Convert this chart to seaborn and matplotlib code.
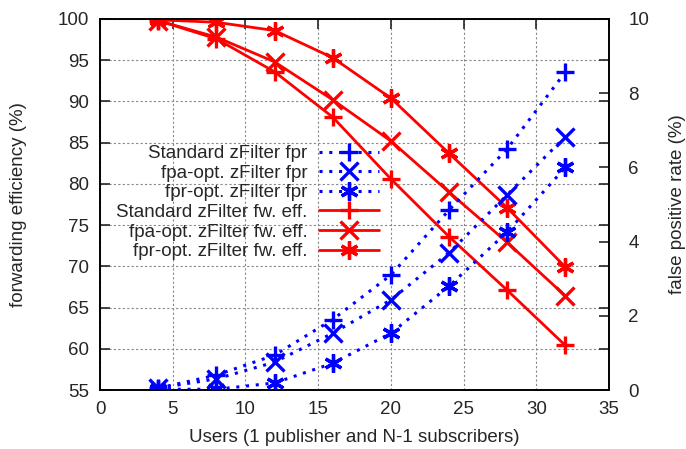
import numpy as np
import pandas as pd
import matplotlib
matplotlib.use("Agg")
import matplotlib.pyplot as plt
import seaborn as sns

# number of users (1 publisher + N-1 subscribers)
users = [4, 8, 12, 16, 20, 24, 28, 32]

# false positive rate (%), right axis
fpr_standard = [0.05, 0.40, 0.94, 1.90, 3.10, 4.85, 6.50, 8.57]
fpr_fpa_opt = [0.05, 0.30, 0.75, 1.53, 2.43, 3.70, 5.26, 6.83]
fpr_fpr_opt = [0.02, 0.02, 0.19, 0.72, 1.53, 2.80, 4.26, 6.00]

# forwarding efficiency (%), left axis
eff_standard = [99.8, 97.6, 93.6, 88.1, 80.6, 73.6, 67.1, 60.4]
eff_fpa_opt = [99.8, 97.8, 94.8, 90.2, 85.2, 79.0, 72.9, 66.4]
eff_fpr_opt = [99.9, 99.6, 98.6, 95.3, 90.4, 83.7, 77.1, 69.9]

fpr_labels = ["Standard zFilter fpr", "fpa-opt. zFilter fpr", "fpr-opt. zFilter fpr"]
eff_labels = ["Standard zFilter fw. eff.", "fpa-opt. zFilter fw. eff.", "fpr-opt. zFilter fw. eff."]
markers = ["+", "x", (6, 2, 0)]

sns.set_style("white")
plt.rcParams["font.family"] = ["Liberation Sans", "DejaVu Sans"]
plt.rcParams["font.size"] = 13.5

fig = plt.figure(figsize=(6.86, 4.49), dpi=100)
ax = fig.add_axes([0.1458, 0.1314, 0.742, 0.8263])
ax2 = ax.twinx()

fpr_df = pd.DataFrame({"users": users * 3,
                       "value": fpr_standard + fpr_fpa_opt + fpr_fpr_opt,
                       "series": [l for l in fpr_labels for _ in users]})
eff_df = pd.DataFrame({"users": users * 3,
                       "value": eff_standard + eff_fpa_opt + eff_fpr_opt,
                       "series": [l for l in eff_labels for _ in users]})

blue, red = "#0000ff", "#ff0000"
handles = []
for lab, m in zip(fpr_labels, markers):
    sub = fpr_df[fpr_df.series == lab]
    sns.lineplot(data=sub, x="users", y="value", ax=ax2, color=blue,
                 linestyle=(0, (1, 2.2)), linewidth=2.2, marker=m,
                 markersize=13, markeredgewidth=2.4, markeredgecolor=blue,
                 markerfacecolor=blue, label=lab, legend=False)
    handles.append(ax2.lines[-1])
for lab, m in zip(eff_labels, markers):
    sub = eff_df[eff_df.series == lab]
    sns.lineplot(data=sub, x="users", y="value", ax=ax, color=red,
                 linewidth=2, marker=m, markersize=13, markeredgewidth=2.4,
                 markeredgecolor=red, markerfacecolor=red,
                 label=lab, legend=False)
    handles.append(ax.lines[-1])

ax.set_xlim(0, 35)
ax.set_ylim(55, 100)
ax2.set_ylim(0, 10)
ax.set_xticks(range(0, 36, 5))
ax.set_yticks(range(55, 101, 5))
ax2.set_yticks(range(0, 11, 2))

ax.grid(True, color="#888888", linestyle=(0, (2, 2)), linewidth=0.8)
ax.set_axisbelow(True)
for a in (ax, ax2):
    for s in a.spines.values():
        s.set_color("black")
        s.set_linewidth(1.2)
ax.tick_params(axis="both", direction="in", length=7, width=1.2,
               top=True, right=True, labelright=False, pad=8)
ax2.tick_params(axis="y", direction="in", length=7, width=1.2, pad=14)

ax.set_xlabel("Users (1 publisher and N-1 subscribers)", labelpad=8)
ax.set_ylabel("forwarding efficiency (%)", labelpad=22)
ax2.set_ylabel("false positive rate (%)", labelpad=14)

leg = ax2.legend(handles=handles, loc="upper right", bbox_to_anchor=(0.548, 0.66),
                 frameon=False, markerfirst=False, handlelength=3.2,
                 handletextpad=0.6, labelspacing=0.13, borderaxespad=0,
                 borderpad=0, fontsize=13.5)
for t in leg.get_texts():
    t.set_ha("right")
leg._legend_box.align = "right"

fig.savefig("out.png", dpi=100)
